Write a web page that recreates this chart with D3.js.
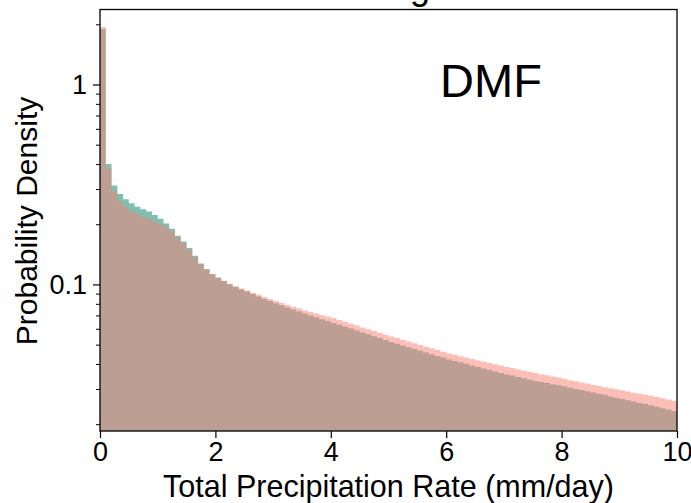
<!DOCTYPE html>
<html>
<head>
<meta charset="utf-8">
<script src="https://cdn.jsdelivr.net/npm/d3@7"></script>
<style>
  body { margin: 0; background: #fff; }
  svg { display: block; }
  text { font-family: "Liberation Sans", Arial, Helvetica, sans-serif; fill: #000; }
</style>
</head>
<body>
<div id="chart"></div>
<script>
var W = 691, H = 503;
var margin = { top: 9.5, right: 14, bottom: 72, left: 100 };

// histogram bins: 0 .. 10 mm/day, width 0.1
var binWidth = 0.1;
var xTicks = [0, 2, 4, 6, 8, 10];
var yTickLabels = [{ v: 1, t: "1" }, { v: 0.1, t: "0.1" }];

// teal series (probability density per bin)
var tealDensity = [
  1.90, 0.403, 0.314, 0.285, 0.268, 0.256, 0.246, 0.239, 0.233, 0.224,
  0.214, 0.203, 0.191, 0.176, 0.165, 0.153, 0.140, 0.128, 0.1198, 0.1131,
  0.1086, 0.1045, 0.1008, 0.0977, 0.0951, 0.0926, 0.0901, 0.0875, 0.0851, 0.0831,
  0.0810, 0.0791, 0.0772, 0.0754, 0.0737, 0.0720, 0.0704, 0.0689, 0.0674, 0.0660,
  0.0646, 0.0632, 0.0618, 0.0605, 0.0592, 0.0579, 0.0566, 0.0554, 0.0542, 0.0530,
  0.0519, 0.0508, 0.0498, 0.0488, 0.0478, 0.0468, 0.0459, 0.0450, 0.0441, 0.0433,
  0.0424, 0.0417, 0.0410, 0.0403, 0.0396, 0.0389, 0.0382, 0.0376, 0.0369, 0.0363,
  0.0357, 0.0352, 0.0346, 0.0341, 0.0336, 0.0331, 0.0327, 0.0323, 0.0319, 0.0315,
  0.0311, 0.0306, 0.0302, 0.0298, 0.0294, 0.0290, 0.0286, 0.0282, 0.0277, 0.0273,
  0.0269, 0.0265, 0.0261, 0.0257, 0.0254, 0.0250, 0.0246, 0.0242, 0.0238, 0.0234
];

// salmon series
var salmonDensity = [
  1.95, 0.383, 0.296, 0.264, 0.246, 0.233, 0.227, 0.220, 0.214, 0.207,
  0.202, 0.194, 0.185, 0.173, 0.162, 0.150, 0.138, 0.127, 0.1202, 0.1135,
  0.1090, 0.1050, 0.1014, 0.0984, 0.0960, 0.0939, 0.0915, 0.0893, 0.0871, 0.0851,
  0.0832, 0.0813, 0.0794, 0.0778, 0.0763, 0.0747, 0.0733, 0.0719, 0.0706, 0.0695,
  0.0684, 0.0668, 0.0655, 0.0640, 0.0627, 0.0613, 0.0600, 0.0588, 0.0576, 0.0564,
  0.0553, 0.0542, 0.0531, 0.0521, 0.0511, 0.0501, 0.0491, 0.0482, 0.0473, 0.0463,
  0.0454, 0.0447, 0.0440, 0.0433, 0.0426, 0.0419, 0.0413, 0.0407, 0.0401, 0.0395,
  0.0389, 0.0384, 0.0378, 0.0373, 0.0368, 0.0363, 0.0358, 0.0353, 0.0348, 0.0344,
  0.0339, 0.0334, 0.0330, 0.0325, 0.0321, 0.0316, 0.0312, 0.0308, 0.0304, 0.0301,
  0.0297, 0.0293, 0.0289, 0.0286, 0.0282, 0.0279, 0.0275, 0.0271, 0.0267, 0.0263
];

var x = d3.scaleLinear().domain([0, 10]).range([margin.left, W - margin.right]);
var y = d3.scaleLog().domain([0.0186, 2.385]).range([H - margin.bottom, margin.top]);

var svg = d3.select("#chart").append("svg")
  .attr("width", W)
  .attr("height", H);

svg.append("clipPath").attr("id", "plotClip")
  .append("rect")
  .attr("x", x(0)).attr("y", y.range()[1])
  .attr("width", x(10) - x(0))
  .attr("height", y.range()[0] - y.range()[1]);

// step-filled histogram
function stepData(vals) {
  var pts = vals.map(function (v, i) { return { x: i * binWidth, v: v }; });
  pts.push({ x: vals.length * binWidth, v: vals[vals.length - 1] });
  return pts;
}
var area = d3.area()
  .curve(d3.curveStepAfter)
  .x(function (d) { return x(d.x); })
  .y0(y.range()[0])
  .y1(function (d) { return y(d.v); });

var g = svg.append("g").attr("clip-path", "url(#plotClip)");
g.append("path")
  .datum(stepData(tealDensity))
  .attr("d", area)
  .attr("fill", "#008066")
  .attr("fill-opacity", 0.5);
g.append("path")
  .datum(stepData(salmonDensity))
  .attr("d", area)
  .attr("fill", "#fa8072")
  .attr("fill-opacity", 0.5);

// x axis
var xAxis = svg.append("g")
  .attr("transform", "translate(0," + y.range()[0] + ")")
  .call(d3.axisBottom(x).tickValues(xTicks).tickFormat(d3.format("d")).tickSize(7).tickPadding(4));
xAxis.select(".domain").remove();
xAxis.selectAll("line").attr("stroke", "#000").attr("stroke-width", 1.2);
xAxis.selectAll("text").attr("font-size", 27).attr("font-family", null).attr("fill", "#000");

// y axis: major + minor log ticks
var minorTicks = [0.02, 0.03, 0.04, 0.05, 0.06, 0.07, 0.08, 0.09,
  0.2, 0.3, 0.4, 0.5, 0.6, 0.7, 0.8, 0.9, 2];
var yAxis = svg.append("g").attr("transform", "translate(" + margin.left + ",0)");
yAxis.selectAll(".minor")
  .data(minorTicks)
  .enter().append("line")
  .attr("class", "minor")
  .attr("x1", -4).attr("x2", 0)
  .attr("y1", function (d) { return y(d); })
  .attr("y2", function (d) { return y(d); })
  .attr("stroke", "#000").attr("stroke-width", 1);
yAxis.selectAll(".major")
  .data(yTickLabels)
  .enter().append("line")
  .attr("class", "major")
  .attr("x1", -7).attr("x2", 0)
  .attr("y1", function (d) { return y(d.v); })
  .attr("y2", function (d) { return y(d.v); })
  .attr("stroke", "#000").attr("stroke-width", 1.2);
yAxis.selectAll(".ylab")
  .data(yTickLabels)
  .enter().append("text")
  .attr("class", "ylab")
  .attr("x", -13)
  .attr("y", function (d) { return y(d.v); })
  .attr("dy", "0.35em")
  .attr("text-anchor", "end")
  .attr("font-size", 27)
  .text(function (d) { return d.t; });

// frame
svg.append("rect")
  .attr("x", x(0)).attr("y", y.range()[1])
  .attr("width", x(10) - x(0))
  .attr("height", y.range()[0] - y.range()[1])
  .attr("fill", "none")
  .attr("stroke", "#000")
  .attr("stroke-width", 1.3);

// labels
svg.append("text")
  .attr("x", (x(0) + x(10)) / 2)
  .attr("y", 497)
  .attr("text-anchor", "middle")
  .attr("font-size", 30.5)
  .text("Total Precipitation Rate (mm/day)");

svg.append("text")
  .attr("transform", "translate(37," + 221 + ") rotate(-90)")
  .attr("text-anchor", "middle")
  .attr("font-size", 30)
  .text("Probability Density");

svg.append("text")
  .attr("x", 491)
  .attr("y", 97)
  .attr("text-anchor", "middle")
  .attr("font-size", 47)
  .text("DMF");

// title of the panel, cut off at the top of the image
svg.append("text")
  .attr("x", 420)
  .attr("y", -1)
  .attr("text-anchor", "middle")
  .attr("font-size", 36)
  .text("g");
</script>
</body>
</html>
